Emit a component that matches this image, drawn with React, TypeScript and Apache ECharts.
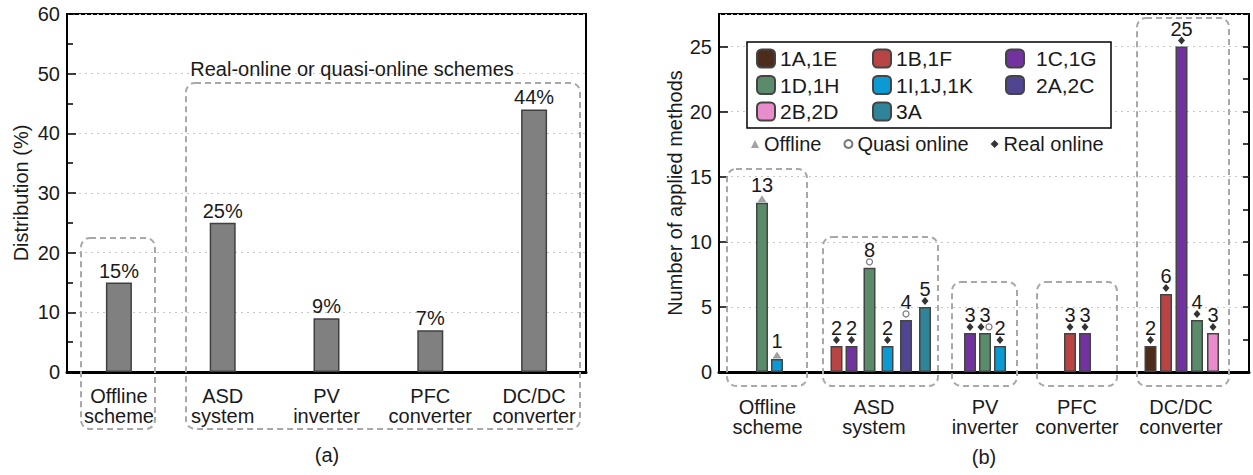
import React, { useEffect, useRef } from 'react';
import * as echarts from 'echarts';

const FONT = '"Liberation Sans", Arial, Helvetica, sans-serif';
const TXT = '#1a1a1a';

// ---------- (a) data ----------
const distCategories = ['Offline\nscheme', 'ASD\nsystem', 'PV\ninverter', 'PFC\nconverter', 'DC/DC\nconverter'];
const distValues = [15, 25, 9, 7, 44];

// ---------- (b) data ----------
const groupNames = ['Offline\nscheme', 'ASD\nsystem', 'PV\ninverter', 'PFC\nconverter', 'DC/DC\nconverter'];
const groupLabelPos = [4.85, 15.5, 26.6, 35.8, 46.2];
const methodNames = ['1A,1E', '1B,1F', '1C,1G', '1D,1H', '1I,1J,1K', '2A,2C', '2B,2D', '3A'];
const methodColors = ['#4d2c1c', '#b84444', '#7232a0', '#5a8c6c', '#0c9ad4', '#4f4590', '#e88ccc', '#2f8499'];
// one entry per bar
const barMethod = [3, 4, 1, 2, 3, 4, 5, 7, 2, 3, 4, 1, 2, 0, 1, 2, 3, 6];
const barPos = [4.3, 5.8, 11.75, 13.25, 15.05, 16.85, 18.7, 20.6, 25.1, 26.6, 28.1, 35.1, 36.6, 43.15, 44.7, 46.25, 47.8, 49.4];
const barCount = [13, 1, 2, 2, 8, 2, 4, 5, 3, 3, 2, 3, 3, 2, 6, 25, 4, 3];
const barKind = ['O', 'O', 'R', 'R', 'Q', 'R', 'Q', 'R', 'R', 'RQ', 'R', 'R', 'R', 'R', 'R', 'R', 'R', 'R'];
const markerNames = ['Offline', 'Quasi online', 'Real online'];
const markerKeys = ['O', 'Q', 'R'];

// ---------- layout ----------
const boxesA = [
  [81, 238, 74, 191],
  [186, 83, 394, 346],
];
const boxesB = [
  [727, 169, 80, 217],
  [823, 237, 115, 149],
  [952, 282, 65, 104],
  [1037, 282, 80, 104],
  [1137, 18, 92, 368],
];

export default function App() {
  const ref = useRef<HTMLDivElement>(null);
  useEffect(() => {
    document.body.style.margin = '0';
    const chart = echarts.init(ref.current!, undefined, { renderer: 'svg' });
    const lbl = { fontFamily: FONT, fontSize: 20, color: TXT };

    const methodSeries = methodNames.map((name, m) => ({
      type: 'bar',
      name,
      xAxisIndex: 1,
      yAxisIndex: 1,
      barWidth: 12,
      barGap: '-100%',
      itemStyle: { color: methodColors[m], borderColor: '#444', borderWidth: 1.5 },
      label: {
        show: true,
        position: 'top',
        distance: 8,
        formatter: (p: any) => String(p.value[1]),
        ...lbl,
      },
      data: barMethod
        .map((mm, i) => (mm === m ? [barPos[i], barCount[i]] : null))
        .filter((d) => d !== null),
      z: 2,
    }));

    const markerStyles: any[] = [
      { symbol: 'triangle', symbolSize: [9, 7], itemStyle: { color: '#8a8a8a' }, dy: -4 },
      { symbol: 'circle', symbolSize: 6, itemStyle: { color: '#fff', borderColor: '#555', borderWidth: 1.2 }, dy: -6 },
      { symbol: 'diamond', symbolSize: [7, 8], itemStyle: { color: '#000' }, dy: -6 },
    ];
    const markerSeries = markerNames.map((name, k) => {
      const key = markerKeys[k];
      const data: any[] = [];
      barKind.forEach((kinds, i) => {
        if (kinds.indexOf(key) >= 0) {
          const dx = kinds.length > 1 ? (key === 'R' ? -4 : 4) : 0;
          data.push({ value: [barPos[i], barCount[i]], symbolOffset: [dx, markerStyles[k].dy] });
        }
      });
      return {
        type: 'scatter',
        name,
        xAxisIndex: 1,
        yAxisIndex: 1,
        symbol: markerStyles[k].symbol,
        symbolSize: markerStyles[k].symbolSize,
        itemStyle: markerStyles[k].itemStyle,
        data,
        z: 4,
      };
    });

    const dashed = { fill: 'none', stroke: '#a8a8a8', lineWidth: 2, lineDash: [6, 4] };
    const graphic: any[] = [
      ...[...boxesA, ...boxesB].map((b) => ({
        type: 'rect',
        silent: true,
        z: 1,
        shape: { x: b[0], y: b[1], width: b[2], height: b[3], r: 9 },
        style: dashed,
      })),
      {
        type: 'rect',
        z: 3,
        silent: true,
        shape: { x: 747, y: 42, width: 364, height: 86 },
        style: { fill: '#fff', stroke: '#000', lineWidth: 1.5 },
      },
      {
        type: 'text', x: 352, y: 69, z: 5,
        style: { text: 'Real-online or quasi-online schemes', fontFamily: FONT, fontSize: 20, fill: TXT, align: 'center', verticalAlign: 'middle' },
      },
      {
        type: 'text', x: 327, y: 455, z: 5,
        style: { text: '(a)', fontFamily: FONT, fontSize: 20, fill: TXT, align: 'center', verticalAlign: 'middle' },
      },
      {
        type: 'text', x: 984, y: 457, z: 5,
        style: { text: '(b)', fontFamily: FONT, fontSize: 20, fill: TXT, align: 'center', verticalAlign: 'middle' },
      },
    ];

    const legendCommon = {
      orient: 'vertical',
      top: 48,
      itemWidth: 18,
      itemHeight: 18,
      itemGap: 5.5,
      padding: 0,
      selectedMode: false,
      z: 6,
      textStyle: { fontFamily: FONT, fontSize: 21, color: TXT },
    };

    const option: any = {
      animation: false,
      textStyle: { fontFamily: FONT },
      grid: [
        { left: 67, top: 14, width: 519, height: 358, show: true, borderColor: '#000', borderWidth: 2 },
        { left: 719, top: 14, width: 530, height: 358, show: true, borderColor: '#000', borderWidth: 2 },
      ],
      legend: [
        { ...legendCommon, left: 756, data: ['1A,1E', '1D,1H', '2B,2D'] },
        { ...legendCommon, left: 872, data: ['1B,1F', '1I,1J,1K', '3A'] },
        { ...legendCommon, left: 1005, data: ['1C,1G', '2A,2C'], textStyle: { ...legendCommon.textStyle, padding: [0, 0, 0, 7] } },
        {
          orient: 'horizontal', left: 751, top: 134, itemWidth: 8, itemHeight: 8, itemGap: 22, padding: 0,
          selectedMode: false, z: 6, data: markerNames,
          textStyle: { fontFamily: FONT, fontSize: 20, color: TXT },
        },
      ],
      xAxis: [
        {
          type: 'category', gridIndex: 0, data: distCategories,
          axisLine: { lineStyle: { color: '#000', width: 3 } },
          axisTick: { show: false },
          axisLabel: { ...lbl, lineHeight: 20, margin: 14, interval: 0 },
        },
        {
          type: 'value', gridIndex: 1, min: 0, max: 53,
          axisLine: { show: true, onZero: false, lineStyle: { color: '#000', width: 3 } },
          axisTick: { show: false },
          splitLine: { show: false },
          axisLabel: {
            ...lbl, lineHeight: 20, margin: 25,
            customValues: groupLabelPos,
            formatter: (v: number) => {
              const i = groupLabelPos.indexOf(v);
              return i >= 0 ? groupNames[i] : '';
            },
          },
        },
      ],
      yAxis: [
        {
          type: 'value', gridIndex: 0, min: 0, max: 60, interval: 10,
          name: 'Distribution (%)', nameLocation: 'middle', nameGap: 36,
          nameTextStyle: { ...lbl },
          axisLine: { show: true, lineStyle: { color: '#000', width: 2 } },
          axisTick: { show: true, inside: true, length: 9, lineStyle: { color: '#000', width: 1.5 } },
          minorTick: { show: true, splitNumber: 2, length: 6, lineStyle: { color: '#000', width: 1.5 } },
          splitLine: { show: true, lineStyle: { color: '#c8c8c8', type: [2, 4], width: 1 } },
          axisLabel: { ...lbl, margin: 7 },
        },
        {
          type: 'value', gridIndex: 1, min: 0, max: 27.5, interval: 5,
          name: 'Number of applied methods', nameLocation: 'middle', nameGap: 34,
          nameTextStyle: { ...lbl },
          axisLine: { show: true, lineStyle: { color: '#000', width: 2 } },
          axisTick: { show: true, inside: true, length: 9, lineStyle: { color: '#000', width: 1.5 } },
          splitLine: { show: true, lineStyle: { color: '#c8c8c8', type: [2, 4], width: 1 } },
          axisLabel: { ...lbl, margin: 7, showMaxLabel: false },
        },
        {
          type: 'value', gridIndex: 1, min: 0, max: 27.5, interval: 2.5,
          axisLine: { show: false },
          axisTick: { show: true, inside: true, length: 6, lineStyle: { color: '#000', width: 1.5 } },
          splitLine: { show: false },
          axisLabel: { show: false },
        },
      ],
      series: [
        {
          type: 'bar', name: 'Distribution', xAxisIndex: 0, yAxisIndex: 0, barWidth: 26,
          data: distValues,
          itemStyle: { color: '#808080', borderColor: '#404040', borderWidth: 1.5 },
          label: { show: true, position: 'top', distance: 2, formatter: '{c}%', ...lbl },
        },
        ...methodSeries,
        ...markerSeries,
      ],
      graphic,
    };
    chart.setOption(option);
    return () => chart.dispose();
  }, []);
  return <div ref={ref} style={{ width: 1253, height: 475 }} />;
}
